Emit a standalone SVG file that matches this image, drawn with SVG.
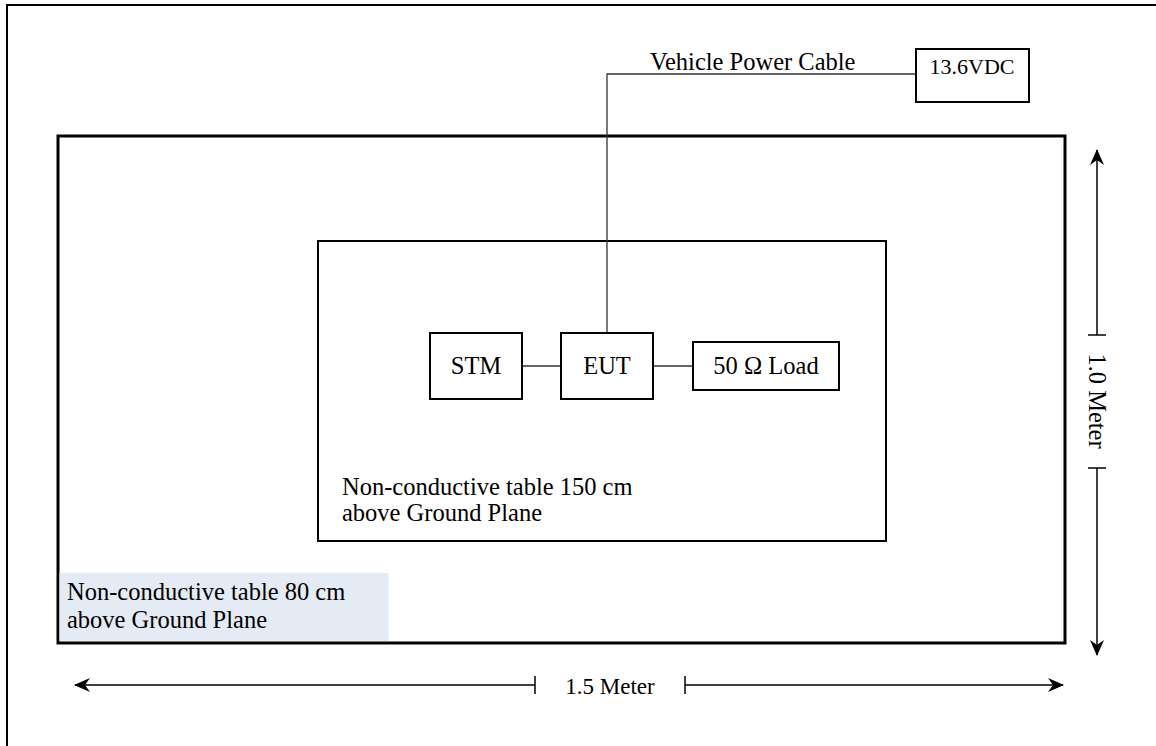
<svg xmlns="http://www.w3.org/2000/svg" width="1156" height="746" viewBox="0 0 1156 746">
<style>
  .t { font-family: "Liberation Serif", "Times New Roman", Times, serif; font-size: 24.5px; fill: #000; }
  .box { fill: #fff; stroke: #000; stroke-width: 2; }
  .ln { stroke: #333; stroke-width: 1.3; fill: none; }
  .dim { stroke: #000; stroke-width: 1.5; fill: none; }
</style>
<defs>
  <marker id="ah" viewBox="0 0 16 16" refX="15" refY="8" markerWidth="16" markerHeight="16" markerUnits="userSpaceOnUse" orient="auto-start-reverse">
    <path d="M0,1 L16,8 L0,15 L5,8 Z" fill="#000"/>
  </marker>
</defs>
<rect width="1156" height="746" fill="#fff"/>
<rect x="7" y="5" width="1170" height="760" fill="none" stroke="#000" stroke-width="2"/>

<g id="ground-plane">
  <rect x="58" y="136" width="1007" height="507" fill="none" stroke="#000" stroke-width="3"/>
  <rect x="59.5" y="573" width="329" height="68" fill="#E5EBF5"/>
  <text class="t" x="67" y="600">Non-conductive table 80 cm</text>
  <text class="t" x="67" y="628">above Ground Plane</text>
</g>

<g id="table">
  <rect x="318" y="241" width="568" height="300" fill="none" stroke="#000" stroke-width="2"/>
  <text class="t" x="342" y="495">Non-conductive table 150 cm</text>
  <text class="t" x="342" y="521">above Ground Plane</text>
</g>

<g id="connectors">
  <line class="ln" x1="522" y1="366" x2="561" y2="366"/>
  <line class="ln" x1="653" y1="366" x2="693" y2="366"/>
  <polyline class="ln" points="607,333 607,74 916,74"/>
</g>

<g id="cable-label">
  <text class="t" x="650" y="70">Vehicle Power Cable</text>
</g>

<g id="stm">
  <rect class="box" x="430" y="333" width="92" height="66"/>
  <text class="t" x="476" y="374" text-anchor="middle">STM</text>
</g>
<g id="eut">
  <rect class="box" x="561" y="333" width="92" height="66"/>
  <text class="t" x="607" y="374" text-anchor="middle">EUT</text>
</g>
<g id="load">
  <rect class="box" x="693" y="342" width="146" height="48"/>
  <text class="t" x="766" y="374" text-anchor="middle">50 Ω Load</text>
</g>
<g id="vdc">
  <rect class="box" x="916" y="49" width="113" height="53"/>
  <text class="t" x="972" y="74" text-anchor="middle" style="font-size:22px">13.6VDC</text>
</g>

<g id="dimension-width">
  <line class="dim" x1="535" y1="685" x2="75" y2="685" marker-end="url(#ah)"/>
  <line class="dim" x1="535" y1="676" x2="535" y2="694"/>
  <line class="dim" x1="685" y1="685" x2="1063" y2="685" marker-end="url(#ah)"/>
  <line class="dim" x1="685" y1="676" x2="685" y2="694"/>
  <text class="t" x="610" y="694" text-anchor="middle" style="font-size:23px">1.5 Meter</text>
</g>
<g id="dimension-height">
  <line class="dim" x1="1097" y1="335" x2="1097" y2="150" marker-end="url(#ah)"/>
  <line class="dim" x1="1088" y1="335" x2="1106" y2="335"/>
  <line class="dim" x1="1097" y1="468" x2="1097" y2="655" marker-end="url(#ah)"/>
  <line class="dim" x1="1088" y1="468" x2="1106" y2="468"/>
  <text class="t" transform="translate(1089,401) rotate(90)" text-anchor="middle">1.0 Meter</text>
</g>
</svg>
